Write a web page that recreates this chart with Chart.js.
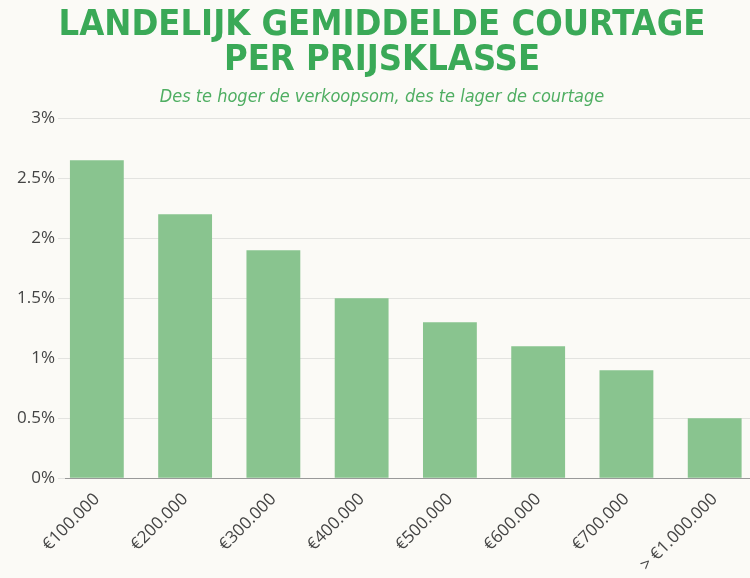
<!DOCTYPE html><html><head><meta charset="utf-8">
<script src="https://cdn.jsdelivr.net/npm/chart.js@4"></script>
<style>html,body{margin:0;background:#fbfaf6;overflow:hidden}#w{width:750px;height:578px}</style></head><body><div id="w"><canvas id="c"></canvas></div>
<script>
const categories=["€100.000","€200.000","€300.000","€400.000","€500.000","€600.000","€700.000","> €1.000.000"];
const courtage=[2.65,2.2,1.9,1.5,1.3,1.1,0.9,0.5];
const yTicks=["0%","0.5%","1%","1.5%","2%","2.5%","3%"];
new Chart(document.getElementById('c'),{type:'bar',
data:{datasets:[{data:courtage.map((v,i)=>({x:i,y:v})),backgroundColor:'#89c48f',barPercentage:0.61,categoryPercentage:1}]},
options:{responsive:true,maintainAspectRatio:false,animation:false,
layout:{padding:{left:14,right:0,top:8,bottom:0}},
plugins:{legend:{display:false},tooltip:{enabled:false},
title:{display:true,text:["LANDELIJK GEMIDDELDE COURTAGE","PER PRIJSKLASSE"],color:'#3aa957',font:{family:"'Liberation Sans Narrow','DejaVu Sans Condensed'",size:36,weight:'bold',lineHeight:0.98},padding:{top:0,bottom:8}},
subtitle:{display:true,text:"Des te hoger de verkoopsom, des te lager de courtage",color:'#4fae62',font:{family:"'Liberation Sans Narrow','DejaVu Sans Condensed'",size:18,style:'italic'},padding:{bottom:10}}},
scales:{x:{type:'linear',offset:false,min:-0.35,max:7.4,grid:{display:false},border:{color:'#999'},
ticks:{stepSize:1,autoSkip:false,maxRotation:45,minRotation:45,color:'#444',font:{family:"'Open Sans'",size:17},callback:v=>categories[v]??''},
afterBuildTicks:s=>{s.ticks=categories.map((_,i)=>({value:i}));}},
y:{min:0,max:3,grid:{color:'#e3e3e0'},border:{display:false},
ticks:{stepSize:0.5,color:'#444',font:{family:"'Open Sans'",size:17},callback:(v)=>yTicks[Math.round(v*2)]}}}}});
</script></body></html>
